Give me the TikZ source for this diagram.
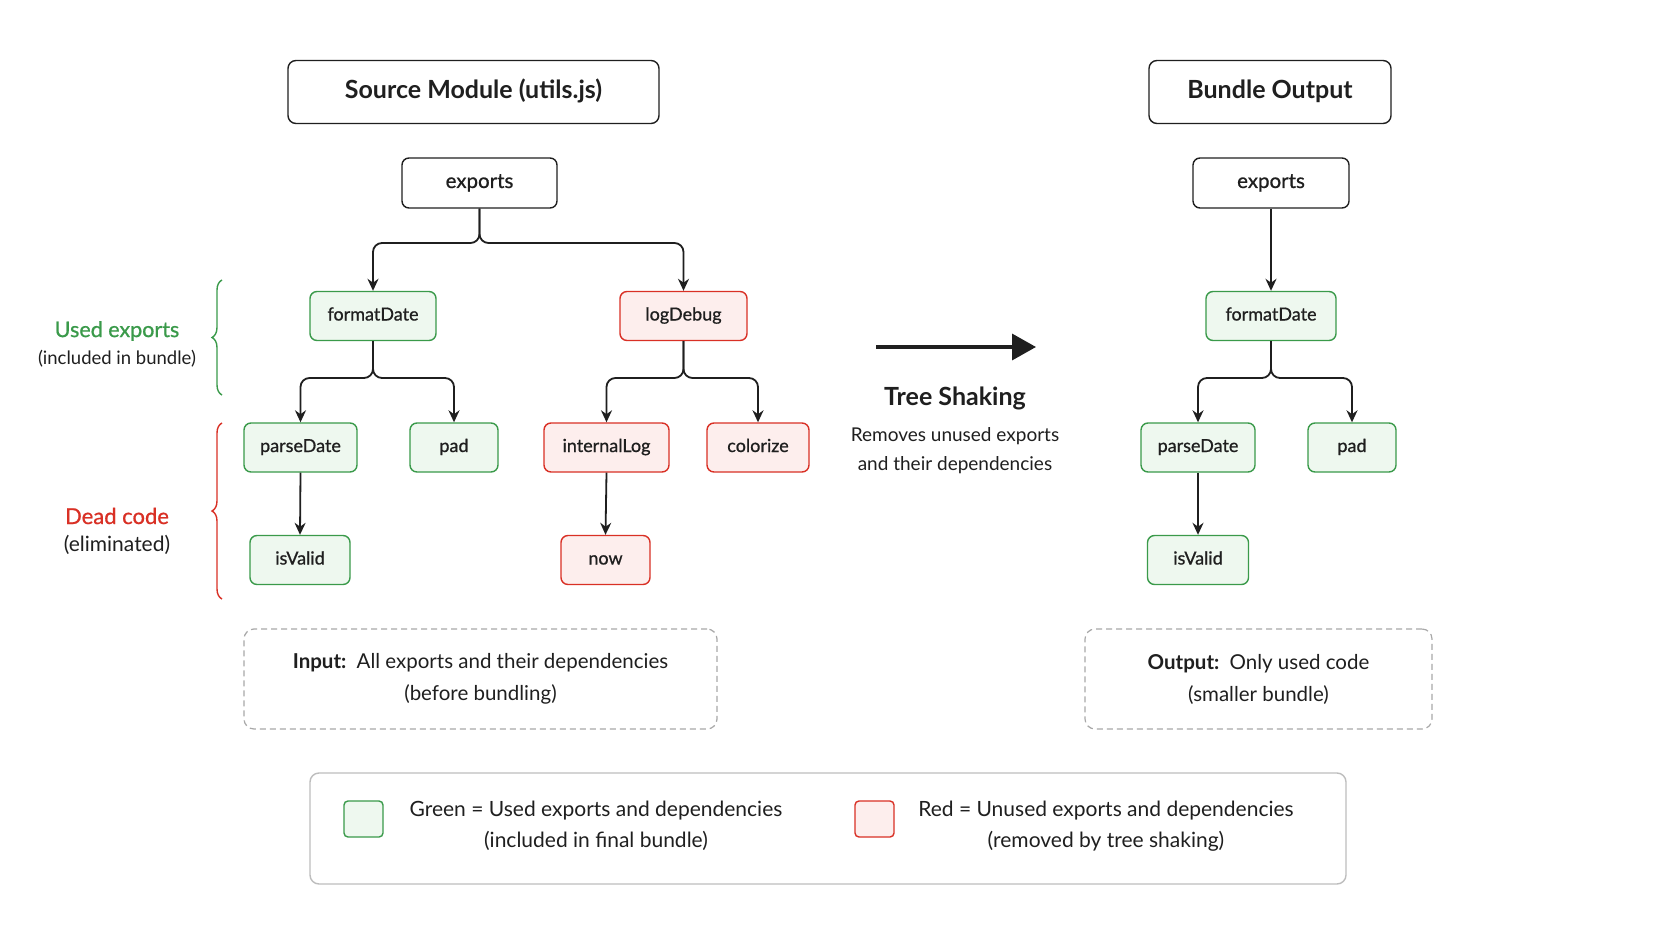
\documentclass[tikz,border=0pt]{standalone}
\usepackage{fontspec}
\setmainfont{Lato}
\newfontfamily\medfont[FakeBold=0.8]{Lato}
\usetikzlibrary{arrows.meta,decorations.pathreplacing,calc}
\definecolor{gborder}{HTML}{3A9A4A}
\definecolor{gfill}{HTML}{EEF8EF}
\definecolor{rborder}{HTML}{D93025}
\definecolor{rfill}{HTML}{FDEEED}
\definecolor{dashgray}{HTML}{A8A8A8}
\definecolor{legendgray}{HTML}{BDBDBD}
\definecolor{ink}{HTML}{1F1F1F}
\tikzset{
  x=1pt, y=-1pt,
  hdr/.style={draw=ink, line width=1.4pt, rounded corners=8pt, inner sep=0pt, text=ink,
    font=\fontsize{25}{29}\selectfont\bfseries, minimum height=63pt, text height=18pt, text depth=5pt},
  expbox/.style={draw=ink, line width=1.4pt, rounded corners=7pt, inner sep=0pt, text=ink,
    font=\fontsize{20.5}{24}\selectfont\medfont, minimum height=50pt, text height=14pt, text depth=4pt},
  used/.style={draw=gborder, fill=gfill, line width=1.4pt, rounded corners=7pt, inner sep=0pt,
    text=ink, font=\fontsize{18}{21}\selectfont\medfont, minimum height=49pt, text height=13pt, text depth=4pt},
  unused/.style={draw=rborder, fill=rfill, line width=1.4pt, rounded corners=7pt, inner sep=0pt,
    text=ink, font=\fontsize{18}{21}\selectfont\medfont, minimum height=49pt, text height=13pt, text depth=4pt},
  link/.style={draw=ink, line width=1.8pt, rounded corners=9pt, -{Stealth[length=12pt,width=11pt]}},
  notebox/.style={draw=dashgray, dashed, dash pattern=on 6pt off 4pt, line width=1.2pt,
    rounded corners=10pt, inner sep=0pt, minimum height=100pt, align=center,
    font=\fontsize{20.5}{32}\selectfont, text=ink},
  swatch/.style={line width=1.4pt, rounded corners=4pt, inner sep=0pt, minimum width=39pt, minimum height=36pt},
  legtext/.style={align=center, font=\fontsize{21}{31}\selectfont, text=ink},
  sidelbl/.style={align=center, font=\fontsize{18.5}{22}\selectfont, text=ink},
}
\begin{document}
\begin{tikzpicture}
\useasboundingbox[fill=white] (0,0) rectangle (1672,941);

% headers
\node[hdr, minimum width=371pt] (srchdr) at (473.5,92) {Source Module (utils.js)};
\node[hdr, minimum width=242pt] (outhdr) at (1270,92) {Bundle Output};

% left tree
\node[expbox, minimum width=155pt] (expL) at (479.5,183) {exports};
\node[used, minimum width=126pt] (fdL) at (373,316) {formatDate};
\node[unused, minimum width=127pt] (ldb) at (683.5,316) {logDebug};
\node[used, minimum width=113pt] (pdL) at (300.5,447.5) {parseDate};
\node[used, minimum width=88pt] (padL) at (454,447.5) {pad};
\node[unused, minimum width=125pt] (ilog) at (606.5,447.5) {internalLog};
\node[unused, minimum width=102pt] (col) at (758,447.5) {colorize};
\node[used, minimum width=100pt] (ivL) at (300,560) {isValid};
\node[unused, minimum width=89pt] (now) at (605.5,560) {now};

\draw[link] (expL.south) -- (expL.south |- 0,243) -| (fdL.north);
\draw[link] (expL.south) -- (expL.south |- 0,243) -| (ldb.north);
\draw[link] (fdL.south) -- (fdL.south |- 0,378) -| (pdL.north);
\draw[link] (fdL.south) -- (fdL.south |- 0,378) -| (padL.north);
\draw[link] (ldb.south) -- (ldb.south |- 0,378) -| (ilog.north);
\draw[link] (ldb.south) -- (ldb.south |- 0,378) -| (col.north);
\draw[link] (pdL.south) -- (ivL.north);
\draw[link] (ilog.south) -- (now.north);

% right tree
\node[expbox, minimum width=156pt] (expR) at (1271,183) {exports};
\node[used, minimum width=130pt] (fdR) at (1271,316) {formatDate};
\node[used, minimum width=114pt] (pdR) at (1198,447.5) {parseDate};
\node[used, minimum width=88pt] (padR) at (1352,447.5) {pad};
\node[used, minimum width=101pt] (ivR) at (1198,560) {isValid};

\draw[link] (expR.south) -- (fdR.north);
\draw[link] (fdR.south) -- (fdR.south |- 0,378) -| (pdR.north);
\draw[link] (fdR.south) -- (fdR.south |- 0,378) -| (padR.north);
\draw[link] (pdR.south) -- (ivR.north);

% braces and side labels
\draw[gborder, line width=1.4pt, decorate, decoration={brace, amplitude=10pt}] (222,395) -- (222,280);
\draw[rborder, line width=1.4pt, decorate, decoration={brace, amplitude=10pt}] (222,599) -- (222,423);
\node[sidelbl, text=gborder, font=\fontsize{21.5}{25}\selectfont\medfont] (usedlbl) at (117,331) {Used exports};
\node[sidelbl] (usedsub) at (117,359) {(included in bundle)};
\node[sidelbl, text=rborder, font=\fontsize{22}{26}\selectfont\medfont] (deadlbl) at (117,516) {Dead code};
\node[sidelbl, font=\fontsize{21}{25}\selectfont] (deadsub) at (117,545) {(eliminated)};

% tree shaking arrow
\coordinate (tsA) at (876,347);
\coordinate (tsB) at (1036,347);
\draw[ink, line width=3.5pt, -{Triangle[length=24pt,width=26pt]}] (tsA) -- (tsB);
\node[font=\fontsize{25}{29}\selectfont\bfseries, text=ink] (tstitle) at (955,398) {Tree Shaking};
\node[align=center, font=\fontsize{19}{29}\selectfont, text=ink] (tssub) at (955,451) {Removes unused exports\\and their dependencies};

% note boxes
\node[notebox, minimum width=473pt] (inbox) at (480.5,679) {\textbf{Input:}\enspace All exports and their dependencies\\(before bundling)};
\node[notebox, minimum width=347pt] (outbox) at (1258.5,679) {\textbf{Output:}\enspace Only used code\\(smaller bundle)};

% legend
\node[draw=legendgray, line width=1.4pt, rounded corners=9pt, minimum width=1036pt, minimum height=111pt, inner sep=0pt] (legend) at (828,828.5) {};
\node[swatch, draw=gborder, fill=gfill] (gsw) at (363.5,819) {};
\node[swatch, draw=rborder, fill=rfill] (rsw) at (874.5,819) {};
\node[legtext] (gtxt) at (596,826) {Green = Used exports and dependencies\\(included in final bundle)};
\node[legtext] (rtxt) at (1106,826) {Red = Unused exports and dependencies\\(removed by tree shaking)};
\end{tikzpicture}
\end{document}
